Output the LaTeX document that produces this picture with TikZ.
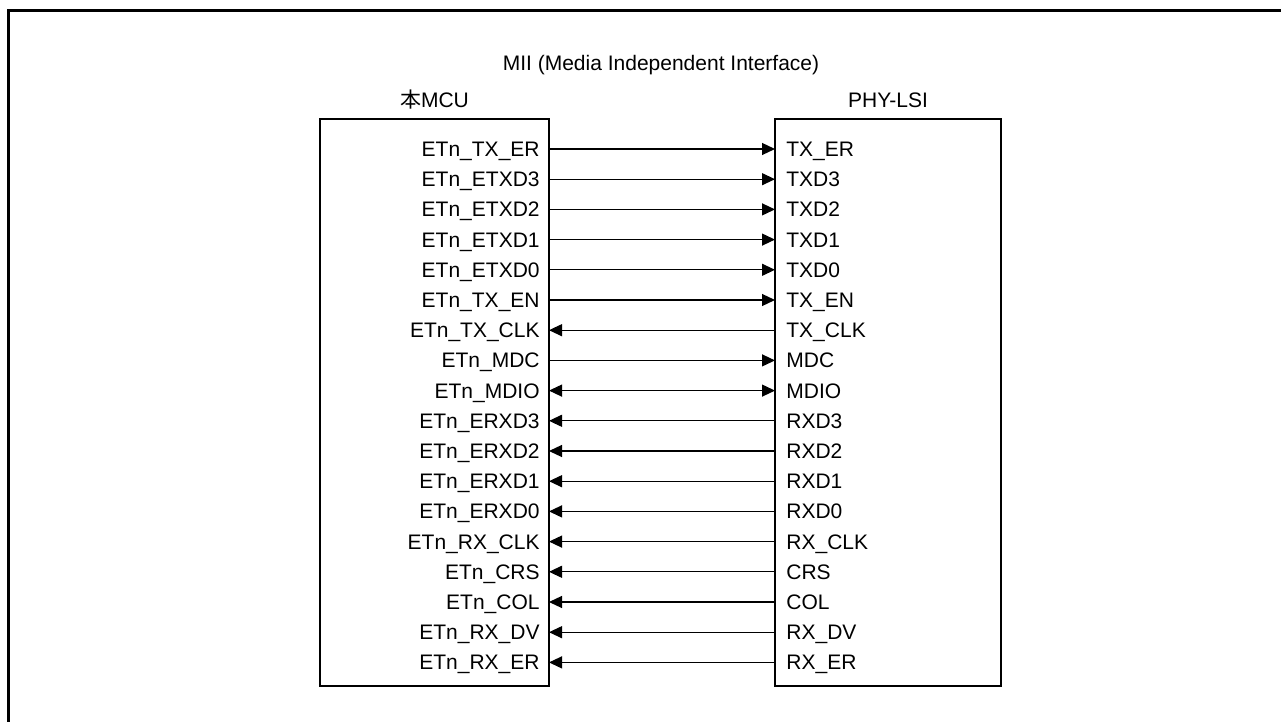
\documentclass[tikz,border=0pt]{standalone}
\usepackage{fontspec}
\setmainfont{Liberation Sans}
\newfontfamily\cjk{Noto Sans CJK JP}
\usetikzlibrary{arrows.meta, positioning}

\begin{document}
\begin{tikzpicture}[
    x=0.5pt, y=-0.5pt,
    >={Triangle[length=6.5pt, width=6pt]},
    chip/.style={rectangle, draw=black, line width=1.3pt, minimum width=#1, minimum height=283.5pt, inner sep=0pt, outer sep=0pt},
    pin/.style={font=\fontsize{10.5}{12}\selectfont, inner sep=0pt, text height=7.5pt, text depth=0pt},
    lpin/.style={pin, anchor=east},
    rpin/.style={pin, anchor=west},
    sig/.style={line width=0.6pt, draw=black},
    caption/.style={font=\fontsize{10.5}{12}\selectfont, inner sep=0pt, text depth=0pt},
    frame/.style={line width=1.5pt, draw=black}
]
    \useasboundingbox (0,0) rectangle (1281,722);
    \draw[frame] (8,722) -- (8,11) -- (1281,11);

    % Devices
    \node[chip=114.5pt] (mcu) at (434.5,402.5) {};
    \node[chip=113pt] (phy) at (888,402.5) {};
    \node[caption] (title) at (661,63) {MII (Media Independent Interface)};
    \node[caption, above=5.5pt of mcu] (mcuname) {{\cjk 本}MCU};
    \node[caption, above=5.5pt of phy] (phyname) {PHY-LSI};

    % Transmit side
    \node[lpin] (l1) at (540,149) {ETn\_TX\_ER};  \node[rpin] (r1) at (786,149) {TX\_ER};
    \node[lpin] (l2) at (540,179.2) {ETn\_ETXD3};  \node[rpin] (r2) at (786,179.2) {TXD3};
    \node[lpin] (l3) at (540,209.4) {ETn\_ETXD2};  \node[rpin] (r3) at (786,209.4) {TXD2};
    \node[lpin] (l4) at (540,239.6) {ETn\_ETXD1};  \node[rpin] (r4) at (786,239.6) {TXD1};
    \node[lpin] (l5) at (540,269.8) {ETn\_ETXD0};  \node[rpin] (r5) at (786,269.8) {TXD0};
    \node[lpin] (l6) at (540,300) {ETn\_TX\_EN};  \node[rpin] (r6) at (786,300) {TX\_EN};
    \node[lpin] (l7) at (540,330.2) {ETn\_TX\_CLK};  \node[rpin] (r7) at (786,330.2) {TX\_CLK};

    % Management
    \node[lpin] (l8) at (540,360.4) {ETn\_MDC};  \node[rpin] (r8) at (786,360.4) {MDC};
    \node[lpin] (l9) at (540,390.6) {ETn\_MDIO};  \node[rpin] (r9) at (786,390.6) {MDIO};

    % Receive side
    \node[lpin] (l10) at (540,420.8) {ETn\_ERXD3};  \node[rpin] (r10) at (786,420.8) {RXD3};
    \node[lpin] (l11) at (540,451) {ETn\_ERXD2};  \node[rpin] (r11) at (786,451) {RXD2};
    \node[lpin] (l12) at (540,481.2) {ETn\_ERXD1};  \node[rpin] (r12) at (786,481.2) {RXD1};
    \node[lpin] (l13) at (540,511.4) {ETn\_ERXD0};  \node[rpin] (r13) at (786,511.4) {RXD0};
    \node[lpin] (l14) at (540,541.6) {ETn\_RX\_CLK};  \node[rpin] (r14) at (786,541.6) {RX\_CLK};
    \node[lpin] (l15) at (540,571.8) {ETn\_CRS};  \node[rpin] (r15) at (786,571.8) {CRS};
    \node[lpin] (l16) at (540,602) {ETn\_COL};  \node[rpin] (r16) at (786,602) {COL};
    \node[lpin] (l17) at (540,632.2) {ETn\_RX\_DV};  \node[rpin] (r17) at (786,632.2) {RX\_DV};
    \node[lpin] (l18) at (540,662.4) {ETn\_RX\_ER};  \node[rpin] (r18) at (786,662.4) {RX\_ER};

    % Signals
    \draw[sig, ->] (mcu.east |- l1) -- (phy.west |- r1);
    \draw[sig, ->] (mcu.east |- l2) -- (phy.west |- r2);
    \draw[sig, ->] (mcu.east |- l3) -- (phy.west |- r3);
    \draw[sig, ->] (mcu.east |- l4) -- (phy.west |- r4);
    \draw[sig, ->] (mcu.east |- l5) -- (phy.west |- r5);
    \draw[sig, ->] (mcu.east |- l6) -- (phy.west |- r6);
    \draw[sig, <-] (mcu.east |- l7) -- (phy.west |- r7);
    \draw[sig, ->] (mcu.east |- l8) -- (phy.west |- r8);
    \draw[sig, <->] (mcu.east |- l9) -- (phy.west |- r9);
    \draw[sig, <-] (mcu.east |- l10) -- (phy.west |- r10);
    \draw[sig, <-] (mcu.east |- l11) -- (phy.west |- r11);
    \draw[sig, <-] (mcu.east |- l12) -- (phy.west |- r12);
    \draw[sig, <-] (mcu.east |- l13) -- (phy.west |- r13);
    \draw[sig, <-] (mcu.east |- l14) -- (phy.west |- r14);
    \draw[sig, <-] (mcu.east |- l15) -- (phy.west |- r15);
    \draw[sig, <-] (mcu.east |- l16) -- (phy.west |- r16);
    \draw[sig, <-] (mcu.east |- l17) -- (phy.west |- r17);
    \draw[sig, <-] (mcu.east |- l18) -- (phy.west |- r18);

\end{tikzpicture}
\end{document}
